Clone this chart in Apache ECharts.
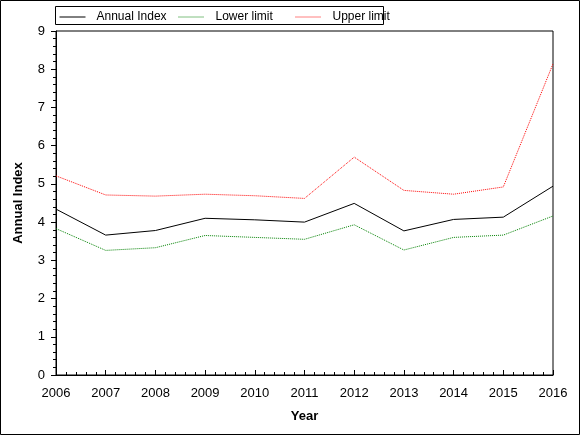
<!DOCTYPE html>
<html>
<head>
<meta charset="utf-8">
<script src="https://cdn.jsdelivr.net/npm/echarts@6/dist/echarts.min.js"></script>
<style>
  html, body { margin: 0; padding: 0; background: #fff; }
  #chart { width: 580px; height: 435px; }
</style>
</head>
<body>
<div id="chart"></div>
<script>
var years = [2006, 2007, 2008, 2009, 2010, 2011, 2012, 2013, 2014, 2015, 2016];
var annualIndex = [4.34, 3.66, 3.78, 4.10, 4.06, 4.00, 4.49, 3.77, 4.07, 4.13, 4.94];
var lowerLimit = [3.83, 3.26, 3.33, 3.65, 3.60, 3.55, 3.93, 3.27, 3.60, 3.66, 4.16];
var upperLimit = [5.21, 4.71, 4.68, 4.73, 4.69, 4.62, 5.70, 4.83, 4.73, 4.92, 8.14];
var seriesNames = ['Annual Index', 'Lower limit', 'Upper limit'];

var colors = ['#000', '#008000', '#ff0000'];
var dashes = ['solid', [1, 1], [1, 1]];

function pairs(vals) {
    return years.map(function (y, i) { return [y, vals[i]]; });
}

var myChart = echarts.init(document.getElementById('chart'));
var font = 'Arial, "Liberation Sans", sans-serif';

// one legend per entry so the columns sit where the original puts them
var legendLeft = [59, 178, 295];
var legends = seriesNames.map(function (name, i) {
    return {
        left: legendLeft[i],
        top: 11,
        padding: 0,
        itemWidth: 26,
        itemHeight: 10,
        itemStyle: { opacity: 0 },
        lineStyle: { color: colors[i], width: 1, type: dashes[i] },
        textStyle: { fontSize: 12, color: '#000', fontFamily: font, padding: [0, 0, 0, 6] },
        selectedMode: false,
        data: [name]
    };
});

var option = {
    animation: false,
    textStyle: { fontFamily: font },
    graphic: [{
        type: 'rect',
        shape: { x: 0.5, y: 0.5, width: 579, height: 434 },
        style: { fill: null, stroke: '#000', lineWidth: 1 },
        silent: true
    }, {
        type: 'rect',
        shape: { x: 55.5, y: 6.5, width: 328, height: 18 },
        style: { fill: null, stroke: '#000', lineWidth: 1 },
        silent: true
    }],
    legend: legends,
    grid: { left: 56, right: 27, top: 31, bottom: 60, show: true, borderColor: '#000', borderWidth: 1 },
    xAxis: {
        type: 'value',
        min: 2006,
        max: 2016,
        interval: 1,
        name: 'Year',
        nameLocation: 'middle',
        nameGap: 35,
        nameTextStyle: { fontWeight: 'bold', fontSize: 13, color: '#000', fontFamily: font },
        axisLine: { lineStyle: { color: '#000', width: 1 } },
        axisTick: { inside: true, length: 5, lineStyle: { color: '#000' } },
        minorTick: { show: true, splitNumber: 5, length: 3, lineStyle: { color: '#000' } },
        axisLabel: { color: '#000', fontSize: 13, margin: 12, formatter: function (v) { return String(v); } },
        splitLine: { show: false }
    },
    yAxis: {
        type: 'value',
        min: 0,
        max: 9,
        interval: 1,
        name: 'Annual Index',
        nameLocation: 'middle',
        nameGap: 31,
        nameTextStyle: { fontWeight: 'bold', fontSize: 13, color: '#000', fontFamily: font },
        axisLine: { lineStyle: { color: '#000', width: 1 } },
        axisTick: { inside: false, length: 5, lineStyle: { color: '#000' } },
        minorTick: { show: true, splitNumber: 5, length: 3, lineStyle: { color: '#000' } },
        axisLabel: { color: '#000', fontSize: 13, margin: 11 },
        splitLine: { show: false }
    },
    series: [
        {
            name: seriesNames[0],
            type: 'line',
            symbol: 'none',
            color: colors[0],
            lineStyle: { color: colors[0], width: 1, type: dashes[0] },
            data: pairs(annualIndex)
        },
        {
            name: seriesNames[1],
            type: 'line',
            symbol: 'none',
            color: colors[1],
            lineStyle: { color: colors[1], width: 1, type: dashes[1] },
            data: pairs(lowerLimit)
        },
        {
            name: seriesNames[2],
            type: 'line',
            symbol: 'none',
            color: colors[2],
            lineStyle: { color: colors[2], width: 1, type: dashes[2] },
            data: pairs(upperLimit)
        }
    ]
};

myChart.setOption(option);
</script>
</body>
</html>
